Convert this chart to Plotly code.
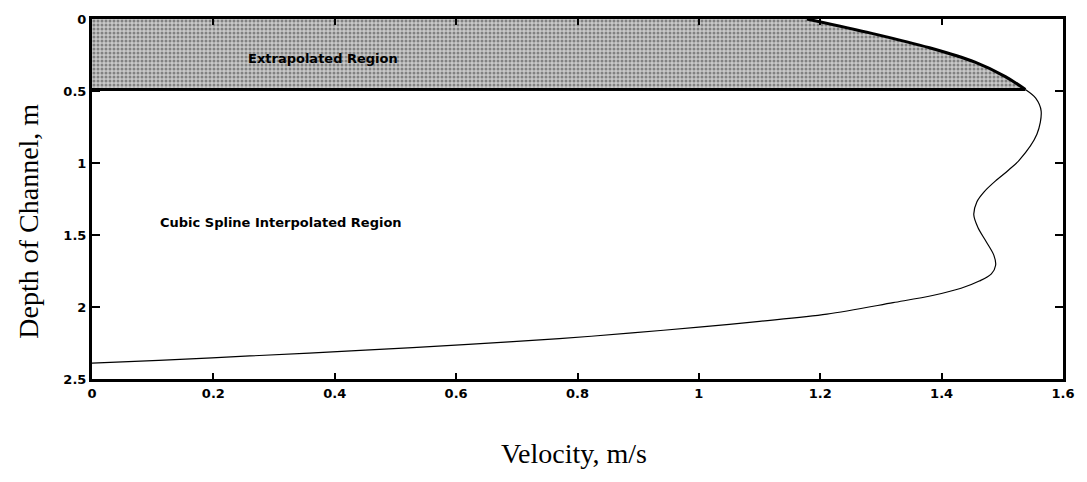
import plotly.graph_objects as go

# Extrapolated region (surface to 0.49 m)
extrap_depth = [0.0, 0.10, 0.20, 0.30, 0.40, 0.49]
extrap_vel = [1.178, 1.285, 1.38, 1.455, 1.505, 1.538]

# Cubic-spline interpolated region
interp_depth = [0.49, 0.55, 0.64, 0.80, 0.98, 1.05, 1.12, 1.20, 1.27, 1.36, 1.45,
                1.55, 1.64, 1.71, 1.77, 1.82, 1.87, 1.92, 1.97, 2.05, 2.10, 2.14,
                2.18, 2.22, 2.26, 2.30, 2.34, 2.37, 2.39]
interp_vel = [1.538, 1.555, 1.564, 1.557, 1.528, 1.510, 1.490, 1.470, 1.458, 1.453,
              1.460, 1.474, 1.486, 1.489, 1.482, 1.462, 1.432, 1.385, 1.32, 1.211,
              1.10, 1.00, 0.89, 0.77, 0.62, 0.45, 0.26, 0.11, 0.0]

boundary_depth = 0.49

x_ticks = [0, 0.2, 0.4, 0.6, 0.8, 1.0, 1.2, 1.4, 1.6]
x_tick_text = ["0", "0.2", "0.4", "0.6", "0.8", "1", "1.2", "1.4", "1.6"]
y_ticks = [0, 0.5, 1, 1.5, 2, 2.5]
y_tick_text = ["0", "0.5", "1", "1.5", "2", "2.5"]

fig = go.Figure()

# shaded extrapolated region
poly_x = [0.0] + extrap_vel + [0.0, 0.0]
poly_y = [0.0] + extrap_depth + [boundary_depth, 0.0]
fig.add_trace(go.Scatter(
    x=poly_x, y=poly_y, mode="lines", fill="toself",
    fillcolor="#b4b4b4",
    fillpattern=dict(shape=".", fgcolor="#3a3a3a", bgcolor="#c8c8c8", size=4, solidity=0.45),
    line=dict(width=0, color="rgba(0,0,0,0)"), hoverinfo="skip", showlegend=False))

# boundary line of extrapolated region
fig.add_trace(go.Scatter(
    x=[0.0, extrap_vel[-1]], y=[boundary_depth, boundary_depth], mode="lines",
    line=dict(color="black", width=3), showlegend=False))

# extrapolated profile (thick)
fig.add_trace(go.Scatter(
    x=extrap_vel, y=extrap_depth, mode="lines",
    line=dict(color="black", width=3, shape="spline", smoothing=1.0), showlegend=False))

# interpolated profile (thin)
fig.add_trace(go.Scatter(
    x=interp_vel, y=interp_depth, mode="lines",
    line=dict(color="black", width=1.2, shape="spline", smoothing=0.9), showlegend=False))

W, H = 1087, 482
L, R, T, B = 92, 16, 14, 103
pw, ph = W - L - R, H - T - B

tick_font = dict(family="DejaVu Sans", size=13, color="black", weight="bold")
label_font = dict(family="DejaVu Sans", size=13, color="black", weight="bold")

fig.update_layout(
    width=W, height=H,
    margin=dict(l=L, r=R, t=T, b=B),
    paper_bgcolor="white", plot_bgcolor="white",
    showlegend=False,
    xaxis=dict(range=[0, 1.6], tickvals=x_ticks, ticktext=x_tick_text,
               ticks="inside", ticklen=6, tickwidth=2, tickcolor="black",
               showline=True, linecolor="black", linewidth=3, mirror="ticks",
               showgrid=False, zeroline=False, tickfont=tick_font),
    yaxis=dict(range=[2.5, 0], tickvals=y_ticks, ticktext=y_tick_text,
               ticks="inside", ticklen=8, tickwidth=2, tickcolor="black",
               showline=True, linecolor="black", linewidth=3, mirror="ticks",
               showgrid=False, zeroline=False, tickfont=tick_font),
    annotations=[
        dict(text="Extrapolated Region", xref="x", yref="y", x=0.253, y=0.274,
             xanchor="left", yanchor="middle", showarrow=False, font=label_font),
        dict(text="Cubic Spline Interpolated Region", xref="x", yref="y", x=0.108, y=1.41,
             xanchor="left", yanchor="middle", showarrow=False, font=label_font),
        dict(text="Depth of Channel, m", xref="paper", yref="paper",
             x=(28 - L) / pw, y=(H - B - 219) / ph, textangle=-90,
             xanchor="center", yanchor="middle", showarrow=False,
             font=dict(family="Liberation Serif", size=28, color="black")),
        dict(text="Velocity, m/s", xref="paper", yref="paper",
             x=(578 - L) / pw, y=(H - B - 455) / ph,
             xanchor="center", yanchor="middle", showarrow=False,
             font=dict(family="Liberation Serif", size=28, color="black")),
    ],
)

fig.write_html("out.html")
